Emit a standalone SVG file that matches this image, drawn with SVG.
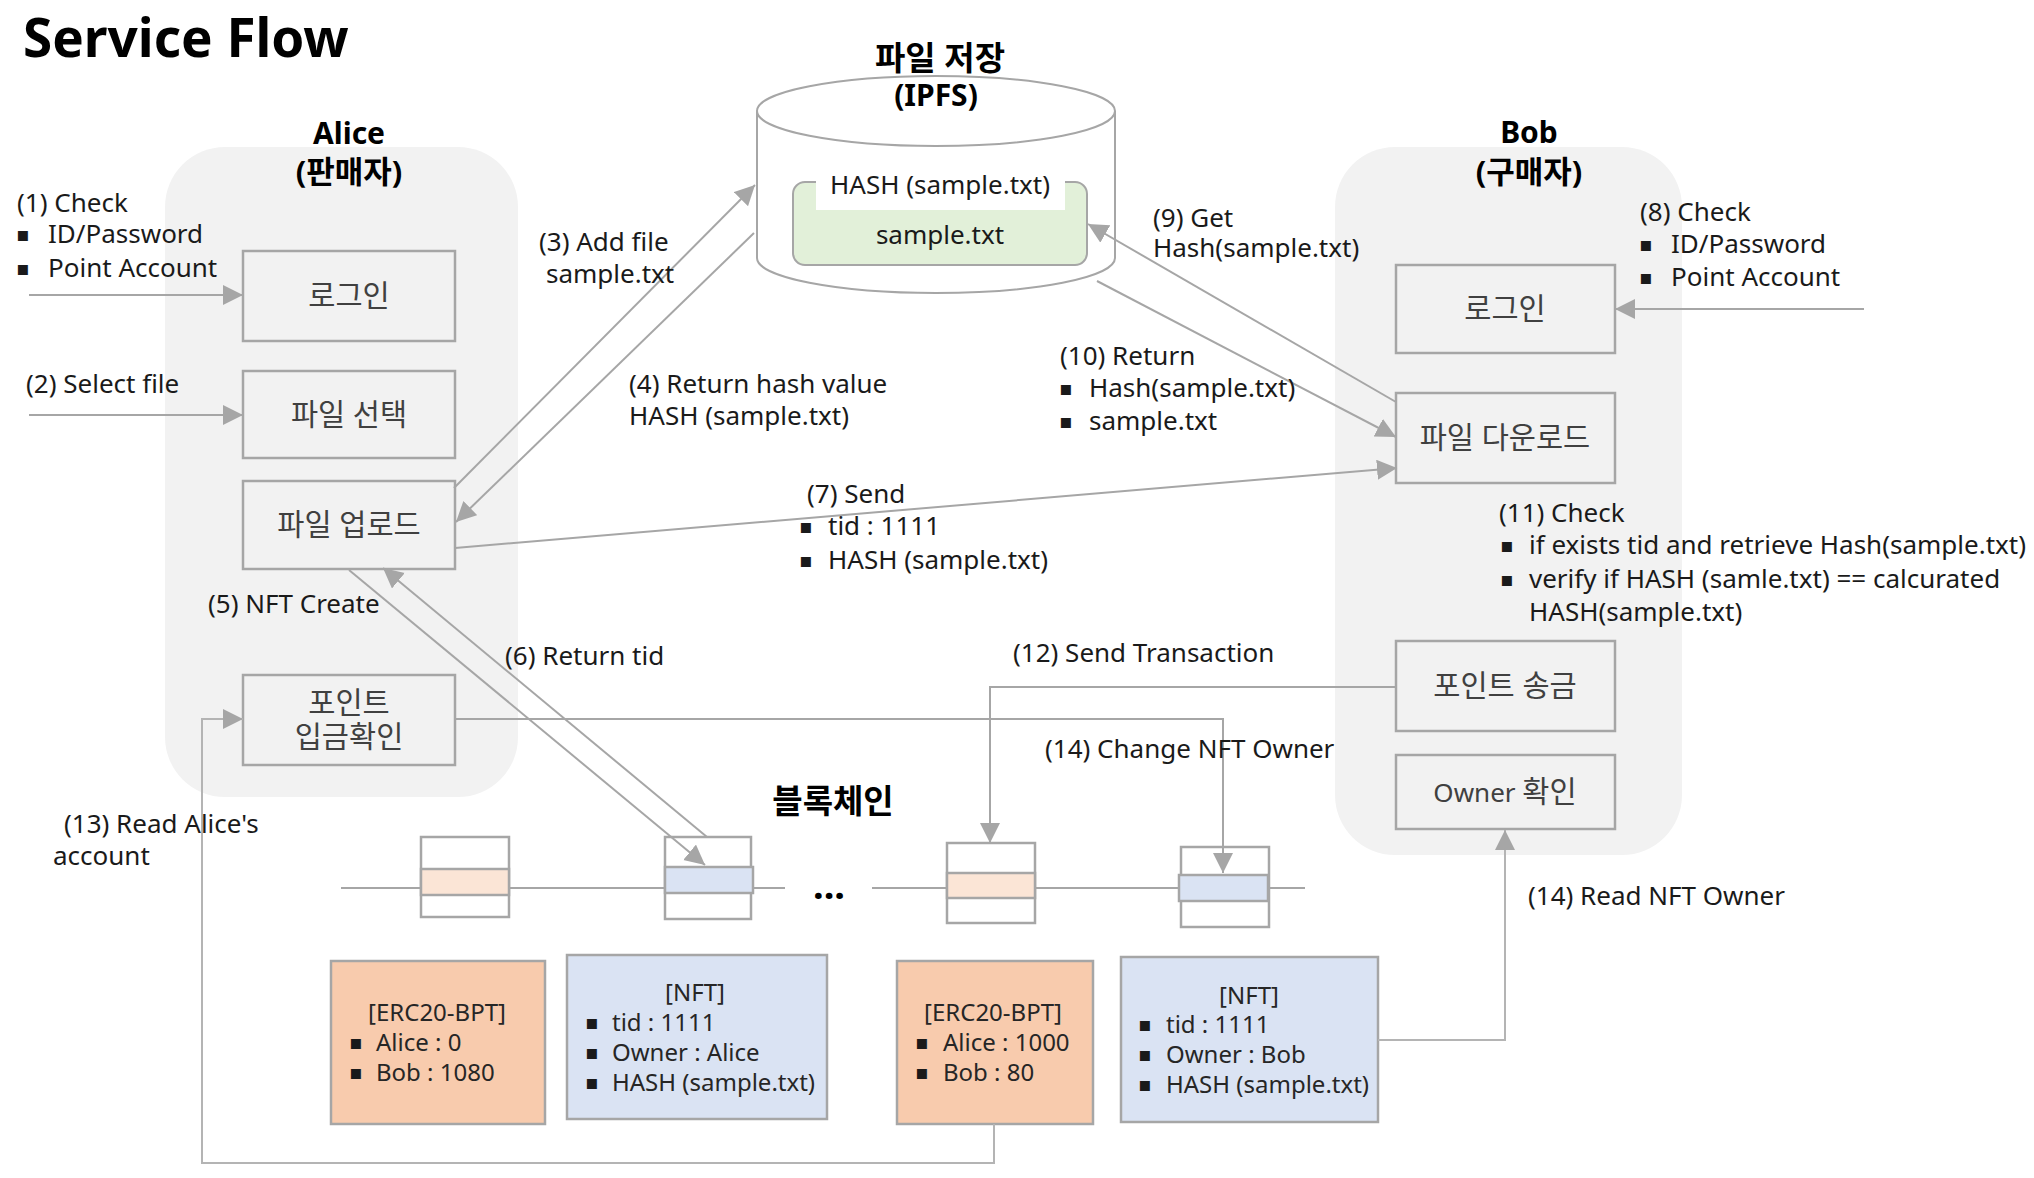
<svg xmlns="http://www.w3.org/2000/svg" width="2034" height="1178" viewBox="0 0 2034 1178">
<style>
.t{font-family:"Noto Sans","Noto Sans CJK KR",sans-serif;font-size:26px;fill:#1a1a1a}
.s{font-size:24px;fill:#262626}
.bx{fill:#404040}
.k{font-size:29.5px}
.b{font-weight:bold;fill:#000}
.m{text-anchor:middle}
.bul{font-family:"DejaVu Sans",sans-serif;font-size:20px;fill:#1a1a1a}
.panel{fill:#f2f2f2}
.box{fill:#f2f2f2;stroke:#a6a6a6;stroke-width:2.5}
.blk{fill:#fff;stroke:#a6a6a6;stroke-width:2.5}
.pe{fill:#fbe5d6;stroke:#a6a6a6;stroke-width:2.5}
.bl{fill:#dae3f3;stroke:#a6a6a6;stroke-width:2.5}
.erc{fill:#f8cbad;stroke:#a6a6a6;stroke-width:2.5}
.nft{fill:#dae3f3;stroke:#a6a6a6;stroke-width:2.5}
.ln{fill:none;stroke:#a6a6a6;stroke-width:2}
.lt{fill:none;stroke:#b4b4b4;stroke-width:2}
.ar{marker-end:url(#ah)}
</style>
<defs>
<marker id="ah" markerUnits="userSpaceOnUse" markerWidth="22" markerHeight="22" refX="20" refY="10" orient="auto">
<path d="M0,0 L20,10 L0,20 z" fill="#a6a6a6"/>
</marker>
</defs>
<rect width="2034" height="1178" fill="#fff"/>
<text class="t b" x="23" y="57" style="font-size:53px">Service Flow</text>

<g id="alice-panel">
<rect class="panel" x="165" y="147" width="353" height="650" rx="60"/>
<text class="t b m" x="349" y="144" style="font-size:30px">Alice</text>
<text class="t b m" x="349" y="183" style="font-size:31px">(판매자)</text>
</g>
<g id="bob-panel">
<rect class="panel" x="1335" y="147" width="347" height="708" rx="60"/>
<text class="t b m" x="1529" y="143" style="font-size:30px">Bob</text>
<text class="t b m" x="1529" y="183" style="font-size:31px">(구매자)</text>
</g>

<g id="ipfs">
<text class="t b m" x="940" y="70" style="font-size:33px">파일 저장</text>
<path d="M757,111 L757,258 A179,35 0 0 0 1115,258 L1115,111" fill="#fff" stroke="#a6a6a6" stroke-width="2"/>
<ellipse cx="936" cy="111" rx="179" ry="35" fill="#fff" stroke="#a6a6a6" stroke-width="2"/>
<text class="t b m" x="936" y="106" style="font-size:30px">(IPFS)</text>
<rect x="793" y="182" width="294" height="83" rx="12" fill="#e2f0d9" stroke="#a6a6a6" stroke-width="2"/>
<rect x="816" y="176" width="249" height="34" fill="#fff"/>
<text class="t m" x="940" y="194">HASH (sample.txt)</text>
<text class="t m" x="940" y="244">sample.txt</text>
</g>

<g id="a-login"><rect class="box" x="243" y="251" width="212" height="90"/><text class="t bx k m" x="349" y="306">로그인</text></g>
<g id="a-select"><rect class="box" x="243" y="371" width="212" height="87"/><text class="t bx k m" x="349" y="425">파일 선택</text></g>
<g id="a-upload"><rect class="box" x="243" y="481" width="212" height="88"/><text class="t bx k m" x="349" y="535">파일 업로드</text></g>
<g id="a-point"><rect class="box" x="243" y="675" width="212" height="90"/><text class="t bx k m" x="349" y="713">포인트</text><text class="t bx k m" x="349" y="747">입금확인</text></g>

<g id="b-login"><rect class="box" x="1396" y="265" width="219" height="88"/><text class="t bx k m" x="1505" y="319">로그인</text></g>
<g id="b-download"><rect class="box" x="1396" y="393" width="219" height="90"/><text class="t bx k m" x="1505" y="448">파일 다운로드</text></g>
<g id="b-send"><rect class="box" x="1396" y="641" width="219" height="90"/><text class="t bx k m" x="1505" y="696">포인트 송금</text></g>
<g id="b-owner"><rect class="box" x="1396" y="755" width="219" height="74"/><text class="t bx m" x="1505" y="802">Owner <tspan class="k">확인</tspan></text></g>

<g id="blockchain">
<text class="t b m" x="833" y="813" style="font-size:33px">블록체인</text>
<line class="ln" x1="341" y1="888" x2="785" y2="888"/>
<line class="ln" x1="872" y1="888" x2="1305" y2="888"/>
<text class="t b m" x="829" y="899" style="font-size:38px">...</text>
<g id="block1"><rect class="blk" x="421" y="837" width="88" height="80"/><rect class="pe" x="421" y="869" width="88" height="26"/></g>
<g id="block2"><rect class="blk" x="665" y="837" width="86" height="82"/><rect class="bl" x="665" y="867" width="88" height="26"/></g>
<g id="block3"><rect class="blk" x="947" y="843" width="88" height="80"/><rect class="pe" x="947" y="873" width="88" height="25"/></g>
<g id="block4"><rect class="blk" x="1181" y="847" width="88" height="80"/><rect class="bl" x="1179" y="875" width="89" height="26"/></g>
</g>

<g id="erc1"><rect class="erc" x="331" y="961" width="214" height="163"/>
<text class="t s m" x="437" y="1021">[ERC20-BPT]</text>
<text class="bul" x="349" y="1049">▪</text><text class="t s" x="376" y="1051">Alice : 0</text>
<text class="bul" x="349" y="1079">▪</text><text class="t s" x="376" y="1081">Bob : 1080</text></g>
<g id="nft1"><rect class="nft" x="567" y="955" width="260" height="164"/>
<text class="t s m" x="695" y="1001">[NFT]</text>
<text class="bul" x="585" y="1029">▪</text><text class="t s" x="612" y="1031">tid : 1111</text>
<text class="bul" x="585" y="1059">▪</text><text class="t s" x="612" y="1061">Owner : Alice</text>
<text class="bul" x="585" y="1089">▪</text><text class="t s" x="612" y="1091">HASH (sample.txt)</text></g>
<g id="erc2"><rect class="erc" x="897" y="961" width="196" height="163"/>
<text class="t s m" x="993" y="1021">[ERC20-BPT]</text>
<text class="bul" x="915" y="1049">▪</text><text class="t s" x="943" y="1051">Alice : 1000</text>
<text class="bul" x="915" y="1079">▪</text><text class="t s" x="943" y="1081">Bob : 80</text></g>
<g id="nft2"><rect class="nft" x="1121" y="957" width="257" height="165"/>
<text class="t s m" x="1249" y="1004">[NFT]</text>
<text class="bul" x="1138" y="1031">▪</text><text class="t s" x="1166" y="1033">tid : 1111</text>
<text class="bul" x="1138" y="1061">▪</text><text class="t s" x="1166" y="1063">Owner : Bob</text>
<text class="bul" x="1138" y="1091">▪</text><text class="t s" x="1166" y="1093">HASH (sample.txt)</text></g>

<g id="connectors">
<line class="ln ar" x1="29" y1="295" x2="243" y2="295"/>
<line class="ln ar" x1="29" y1="415" x2="243" y2="415"/>
<line class="ln ar" x1="454" y1="488" x2="755" y2="185"/>
<line class="ln ar" x1="754" y1="233" x2="456" y2="522"/>
<line class="ln ar" x1="349" y1="570" x2="705" y2="865"/>
<line class="ln ar" x1="707" y1="837" x2="383" y2="568"/>
<line class="ln ar" x1="455" y1="548" x2="1397" y2="468"/>
<line class="ln ar" x1="1864" y1="309" x2="1615" y2="309"/>
<line class="ln ar" x1="1396" y1="402" x2="1088" y2="224"/>
<line class="ln ar" x1="1097" y1="281" x2="1396" y2="437"/>
<polyline class="ln ar" points="1396,687 990,687 990,843"/>
<polyline class="ln ar" points="455,719 1223,719 1223,873"/>
<polyline class="lt ar" points="1378,1040 1505,1040 1505,830"/>
<polyline class="lt ar" points="994,1124 994,1163 202,1163 202,719 243,719"/>
</g>

<g id="labels">
<text class="t" x="17" y="212">(1) Check</text>
<text class="bul" x="16" y="241">▪</text><text class="t" x="48" y="243">ID/Password</text>
<text class="bul" x="16" y="275">▪</text><text class="t" x="48" y="277">Point Account</text>
<text class="t" x="26" y="393">(2) Select file</text>
<text class="t" x="539" y="251">(3) Add file</text>
<text class="t" x="546" y="283">sample.txt</text>
<text class="t" x="629" y="393">(4) Return hash value</text>
<text class="t" x="629" y="425">HASH (sample.txt)</text>
<text class="t" x="208" y="613">(5) NFT Create</text>
<text class="t" x="505" y="665">(6) Return tid</text>
<text class="t" x="807" y="503">(7) Send</text>
<text class="bul" x="799" y="533">▪</text><text class="t" x="828" y="535">tid : 1111</text>
<text class="bul" x="799" y="567">▪</text><text class="t" x="828" y="569">HASH (sample.txt)</text>
<text class="t" x="1640" y="221">(8) Check</text>
<text class="bul" x="1639" y="251">▪</text><text class="t" x="1671" y="253">ID/Password</text>
<text class="bul" x="1639" y="284">▪</text><text class="t" x="1671" y="286">Point Account</text>
<text class="t" x="1153" y="227">(9) Get</text>
<text class="t" x="1153" y="257">Hash(sample.txt)</text>
<text class="t" x="1060" y="365">(10) Return</text>
<text class="bul" x="1059" y="395">▪</text><text class="t" x="1089" y="397">Hash(sample.txt)</text>
<text class="bul" x="1059" y="428">▪</text><text class="t" x="1089" y="430">sample.txt</text>
<text class="t" x="1499" y="522">(11) Check</text>
<text class="bul" x="1500" y="552">▪</text><text class="t" x="1529" y="554">if exists tid and retrieve Hash(sample.txt)</text>
<text class="bul" x="1500" y="586">▪</text><text class="t" x="1529" y="588">verify if HASH (samle.txt) == calcurated</text>
<text class="t" x="1529" y="621">HASH(sample.txt)</text>
<text class="t" x="1013" y="662">(12) Send Transaction</text>
<text class="t" x="64" y="833">(13) Read Alice's</text>
<text class="t" x="53" y="865">account</text>
<text class="t" x="1045" y="758">(14) Change NFT Owner</text>
<text class="t" x="1528" y="905">(14) Read NFT Owner</text>
</g>
</svg>
